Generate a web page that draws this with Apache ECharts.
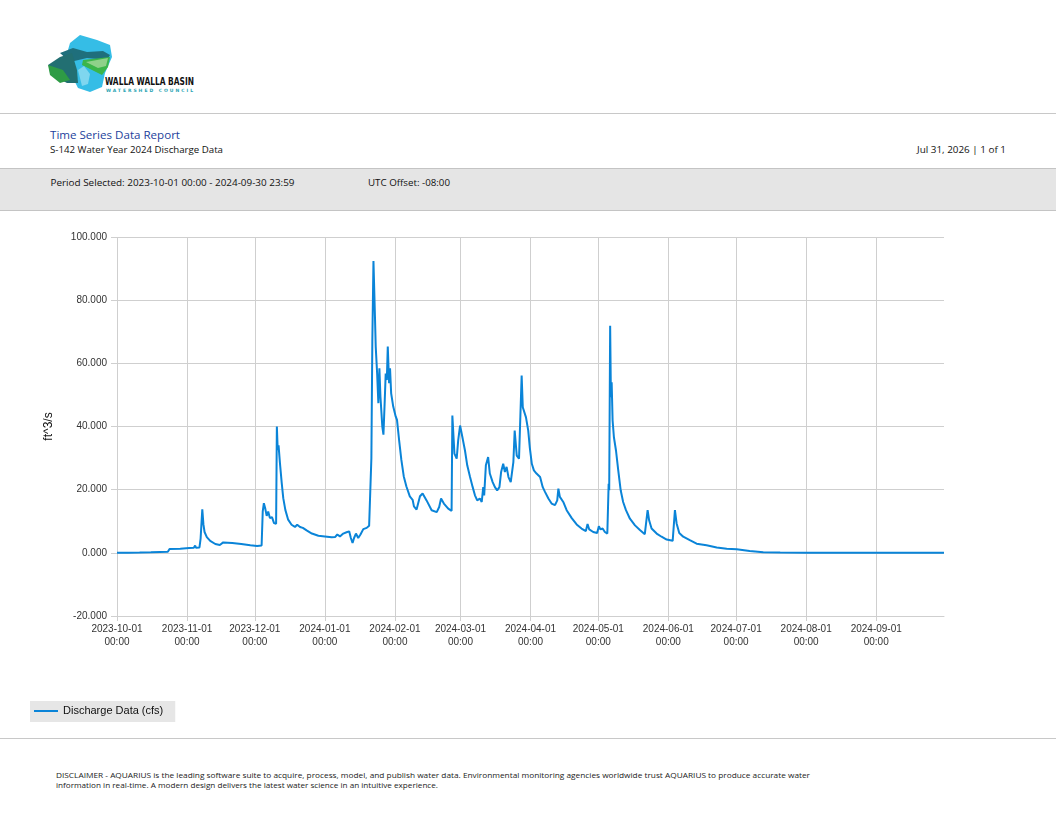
<!DOCTYPE html>
<html>
<head>
<meta charset="utf-8">
<title>Time Series Data Report</title>
<script src="https://cdn.jsdelivr.net/npm/echarts@6.0.0/dist/echarts.min.js"></script>
<style>
  html, body { margin: 0; padding: 0; background: #fff; }
  #page { position: relative; width: 1056px; height: 816px; overflow: hidden; font-family: "Open Sans", "DejaVu Sans", sans-serif; }
  #deco { position: absolute; left: 0; top: 0; }
  #main { position: absolute; left: 0; top: 0; width: 1056px; height: 816px; }
</style>
</head>
<body>
<div id="page">
  <svg id="deco" width="1056" height="816" xmlns="http://www.w3.org/2000/svg">
    <!-- logo -->
    <polygon points="70,43 80,35 97,40 110,45 112,57 105,73 102,87 90,92 78,88 73,78 68,50" fill="#35bde6"/>
    <polygon points="60,53 73,48 87,52 103,51 110,55 107,60 87,58 70,62" fill="#1f6f7c"/>
    <polygon points="83,60 110,57 108,67 102,75 92,70 82,65" fill="#3bb54a"/>
    <polygon points="86,62 108,58 106,66 98,68" fill="#8fd18a"/>
    <polygon points="48,65 60,57 72,53 77,70 78,83 67,83 57,78" fill="#226f72"/>
    <polygon points="48,65 63,70 70,80 60,83 50,75" fill="#2e9b45"/>
    <polygon points="78,70 84,66 90,74 88,84 82,86 80,78" fill="#7fd6ef"/>
    <text x="105" y="85" font-family="DejaVu Sans Condensed, DejaVu Sans, sans-serif" font-size="10" font-weight="bold" fill="#111" textLength="89" lengthAdjust="spacingAndGlyphs">WALLA WALLA BASIN</text>
    <text x="106" y="92" font-family="DejaVu Sans, sans-serif" font-size="4.5" font-weight="bold" fill="#2aa4b3" textLength="87" lengthAdjust="spacing">WATERSHED COUNCIL</text>

    <line x1="0" y1="113.5" x2="1056" y2="113.5" stroke="#c8c8c8" stroke-width="1"/>
    <text x="50" y="139" font-family="Open Sans, sans-serif" font-size="11.5" fill="#1d3f9c" textLength="130" lengthAdjust="spacingAndGlyphs">Time Series Data Report</text>
    <text x="50" y="152.5" font-family="Open Sans, sans-serif" font-size="9" fill="#111" textLength="173" lengthAdjust="spacingAndGlyphs">S-142 Water Year 2024 Discharge Data</text>
    <text x="917" y="152.5" font-family="Open Sans, sans-serif" font-size="9" fill="#111" textLength="89" lengthAdjust="spacingAndGlyphs">Jul 31, 2026 | 1 of 1</text>

    <rect x="0" y="168" width="1056" height="42" fill="#e5e5e5"/>
    <line x1="0" y1="168.5" x2="1056" y2="168.5" stroke="#c4c4c4" stroke-width="1"/>
    <line x1="0" y1="210.5" x2="1056" y2="210.5" stroke="#c4c4c4" stroke-width="1"/>
    <text x="50.5" y="185.5" font-family="Open Sans, sans-serif" font-size="9" fill="#111" textLength="244" lengthAdjust="spacingAndGlyphs">Period Selected: 2023-10-01 00:00 - 2024-09-30 23:59</text>
    <text x="368" y="185.5" font-family="Open Sans, sans-serif" font-size="9" fill="#111" textLength="82" lengthAdjust="spacingAndGlyphs">UTC Offset: -08:00</text>

    <line x1="0" y1="738.5" x2="1056" y2="738.5" stroke="#c8c8c8" stroke-width="1"/>
    <text x="56" y="777.5" font-family="Open Sans, sans-serif" font-size="8" fill="#222" textLength="754" lengthAdjust="spacingAndGlyphs">DISCLAIMER - AQUARIUS is the leading software suite to acquire, process, model, and publish water data. Environmental monitoring agencies worldwide trust AQUARIUS to produce accurate water</text>
    <text x="56" y="788" font-family="Open Sans, sans-serif" font-size="8" fill="#222" textLength="382" lengthAdjust="spacingAndGlyphs">information in real-time. A modern design delivers the latest water science in an intuitive experience.</text>
  </svg>
  <div id="main"></div>
</div>
<script>
// data
var seriesName = 'Discharge Data (cfs)';

var monthTicks = ['2023-10-01 00:00', '2023-11-01 00:00', '2023-12-01 00:00', '2024-01-01 00:00',
    '2024-02-01 00:00', '2024-03-01 00:00', '2024-04-01 00:00', '2024-05-01 00:00',
    '2024-06-01 00:00', '2024-07-01 00:00', '2024-08-01 00:00', '2024-09-01 00:00'];

var yTicks = [-20, 0, 20, 40, 60, 80, 100];

var flowDates = [
    '2023-10-01 00:00', '2023-10-06 00:00', '2023-10-11 00:00', '2023-10-16 00:00', '2023-10-20 00:00',
    '2023-10-23 12:00', '2023-10-24 06:00', '2023-10-25 00:00', '2023-10-29 00:00', '2023-11-02 00:00',
    '2023-11-04 00:00', '2023-11-04 14:00', '2023-11-05 00:00', '2023-11-06 12:00', '2023-11-07 00:00',
    '2023-11-07 18:00', '2023-11-08 06:00', '2023-11-08 18:00', '2023-11-09 18:00', '2023-11-11 06:00',
    '2023-11-13 12:00', '2023-11-15 12:00', '2023-11-17 00:00', '2023-11-21 00:00', '2023-11-25 00:00',
    '2023-11-29 00:00', '2023-12-02 00:00', '2023-12-04 00:00', '2023-12-04 12:00', '2023-12-05 00:00',
    '2023-12-05 14:00', '2023-12-06 06:00', '2023-12-06 22:00', '2023-12-07 16:00', '2023-12-08 14:00',
    '2023-12-09 12:00', '2023-12-10 10:00', '2023-12-10 18:00', '2023-12-11 03:00', '2023-12-11 12:00',
    '2023-12-12 03:00', '2023-12-12 22:00', '2023-12-13 14:00', '2023-12-14 12:00', '2023-12-15 18:00',
    '2023-12-17 06:00', '2023-12-18 18:00', '2023-12-19 18:00', '2023-12-21 00:00', '2023-12-22 06:00',
    '2023-12-22 22:00', '2023-12-23 22:00', '2023-12-26 06:00', '2023-12-29 03:00', '2024-01-01 00:00',
    '2024-01-04 00:00', '2024-01-05 12:00', '2024-01-06 12:00', '2024-01-07 16:00', '2024-01-09 03:00',
    '2024-01-10 14:00', '2024-01-11 18:00', '2024-01-12 12:00', '2024-01-13 06:00', '2024-01-13 22:00',
    '2024-01-14 18:00', '2024-01-15 18:00', '2024-01-16 18:00', '2024-01-18 00:00', '2024-01-19 12:00',
    '2024-01-20 14:00', '2024-01-21 04:00', '2024-01-21 14:00', '2024-01-22 00:00', '2024-01-22 12:00',
    '2024-01-23 04:00', '2024-01-23 12:00', '2024-01-24 03:00', '2024-01-24 16:00', '2024-01-25 03:00',
    '2024-01-25 14:00', '2024-01-26 10:00', '2024-01-26 22:00', '2024-01-27 12:00', '2024-01-27 22:00',
    '2024-01-28 10:00', '2024-01-28 20:00', '2024-01-29 10:00', '2024-01-29 20:00', '2024-01-30 08:00',
    '2024-01-31 06:00', '2024-02-01 08:00', '2024-02-01 22:00', '2024-02-02 20:00', '2024-02-03 20:00',
    '2024-02-04 22:00', '2024-02-06 02:00', '2024-02-07 14:00', '2024-02-08 20:00', '2024-02-09 10:00',
    '2024-02-10 14:00', '2024-02-12 02:00', '2024-02-13 06:00', '2024-02-15 00:00', '2024-02-17 06:00',
    '2024-02-19 12:00', '2024-02-20 14:00', '2024-02-21 10:00', '2024-02-22 16:00', '2024-02-24 14:00',
    '2024-02-26 02:00', '2024-02-26 10:00', '2024-02-27 08:00', '2024-02-28 08:00', '2024-02-29 00:00',
    '2024-02-29 20:00', '2024-03-02 00:00', '2024-03-03 00:00', '2024-03-04 00:00', '2024-03-05 06:00',
    '2024-03-06 10:00', '2024-03-07 10:00', '2024-03-08 10:00', '2024-03-09 14:00', '2024-03-10 10:00',
    '2024-03-11 02:00', '2024-03-11 12:00', '2024-03-12 06:00', '2024-03-13 06:00', '2024-03-14 00:00',
    '2024-03-15 06:00', '2024-03-16 06:00', '2024-03-17 06:00', '2024-03-18 06:00', '2024-03-19 00:00',
    '2024-03-19 22:00', '2024-03-20 16:00', '2024-03-21 10:00', '2024-03-22 06:00', '2024-03-23 06:00',
    '2024-03-24 10:00', '2024-03-25 00:00', '2024-03-25 22:00', '2024-03-26 22:00', '2024-03-27 14:00',
    '2024-03-28 02:00', '2024-03-28 14:00', '2024-03-29 02:00', '2024-03-30 00:00', '2024-03-31 00:00',
    '2024-03-31 16:00', '2024-04-01 14:00', '2024-04-02 12:00', '2024-04-03 16:00', '2024-04-05 06:00',
    '2024-04-06 10:00', '2024-04-07 10:00', '2024-04-08 22:00', '2024-04-10 08:00', '2024-04-11 20:00',
    '2024-04-12 20:00', '2024-04-13 08:00', '2024-04-14 00:00', '2024-04-15 12:00', '2024-04-17 00:00',
    '2024-04-19 06:00', '2024-04-21 10:00', '2024-04-23 14:00', '2024-04-25 12:00', '2024-04-26 06:00',
    '2024-04-27 00:00', '2024-04-28 18:00', '2024-04-30 12:00', '2024-05-01 06:00', '2024-05-02 00:00',
    '2024-05-02 22:00', '2024-05-03 22:00', '2024-05-05 00:00', '2024-05-05 14:00', '2024-05-05 20:00',
    '2024-05-06 06:00', '2024-05-06 14:00', '2024-05-06 22:00', '2024-05-07 08:00', '2024-05-07 22:00',
    '2024-05-08 20:00', '2024-05-09 20:00', '2024-05-10 22:00', '2024-05-12 00:00', '2024-05-13 06:00',
    '2024-05-15 00:00', '2024-05-17 06:00', '2024-05-19 10:00', '2024-05-21 14:00', '2024-05-22 20:00',
    '2024-05-23 12:00', '2024-05-24 14:00', '2024-05-26 20:00', '2024-05-29 00:00', '2024-05-31 06:00',
    '2024-06-02 22:00', '2024-06-03 22:00', '2024-06-04 16:00', '2024-06-05 20:00', '2024-06-07 14:00',
    '2024-06-10 12:00', '2024-06-13 12:00', '2024-06-17 22:00', '2024-06-22 10:00', '2024-06-26 20:00',
    '2024-07-01 06:00', '2024-07-07 00:00', '2024-07-13 00:00', '2024-07-20 12:00', '2024-08-01 00:00',
    '2024-08-20 00:00', '2024-09-10 00:00', '2024-09-30 23:45'
];

var flowValues = [
    0.0, 0.05, 0.1, 0.2, 0.3,
    0.35, 1.2, 1.3, 1.3, 1.5,
    1.6, 2.3, 1.6, 1.7, 4.5,
    13.8, 9.0, 6.6, 5.0, 3.8,
    2.8, 2.5, 3.3, 3.1, 2.8,
    2.4, 2.2, 2.3, 13.1, 15.7,
    14.1, 11.7, 13.1, 11.0, 11.3,
    9.4, 9.2, 40.0, 32.5, 34.0,
    28.3, 22.0, 17.3, 13.6, 10.5,
    8.9, 8.2, 8.9, 8.2, 7.9,
    8.4, 7.1, 6.1, 5.4, 5.2,
    4.9, 5.0, 5.8, 5.2, 6.1,
    6.5, 6.8, 4.7, 3.1, 4.7,
    6.1, 4.7, 5.8, 7.5, 7.9,
    8.6, 9.0, 30.0, 67.0, 92.4,
    74.7, 65.3, 56.8, 47.4, 58.4,
    49.5, 40.0, 37.4, 48.4, 56.8,
    54.7, 65.3, 53.7, 58.4, 50.5,
    46.3, 43.2, 42.1, 35.8, 29.5,
    24.2, 21.0, 17.9, 16.8, 14.7,
    13.7, 17.9, 18.8, 16.6, 13.5,
    12.9, 14.5, 17.2, 15.6, 14.0,
    13.3, 43.5, 31.4, 29.8, 35.6,
    40.3, 36.1, 32.4, 27.7, 24.0,
    20.8, 18.2, 16.6, 17.2, 16.1,
    20.8, 18.2, 27.7, 30.3, 25.1,
    22.4, 20.8, 19.8, 20.8, 25.6,
    28.2, 25.6, 27.2, 24.0, 22.4,
    28.7, 38.7, 30.8, 29.8, 29.3,
    56.1, 46.1, 46.6, 42.9, 38.7,
    33.5, 28.2, 26.1, 25.1, 24.0,
    20.8, 19.3, 17.2, 15.6, 15.1,
    16.6, 20.3, 17.7, 16.1, 13.5,
    11.0, 9.0, 7.7, 6.9, 9.1,
    7.4, 6.6, 6.3, 8.4, 7.4,
    7.7, 6.6, 6.1, 21.9, 19.8,
    71.9, 49.3, 54.0, 41.9, 36.6,
    32.4, 26.1, 19.8, 16.1, 13.5,
    10.8, 8.7, 7.2, 5.9, 13.5,
    10.3, 7.7, 6.1, 5.1, 4.2,
    3.8, 13.5, 9.3, 6.3, 5.1,
    4.0, 2.9, 2.4, 1.7, 1.3,
    1.1, 0.6, 0.2, 0.1, 0.05,
    0.02, 0.0, 0.0
];

function toTime(s) {
    return echarts.time.parse(s).getTime();
}

var tickTimes = monthTicks.map(toTime);
var flowData = flowDates.map(function (d, i) {
    return [toTime(d), flowValues[i]];
});

var gridColor = '#cfcfcf';
var lineColor = '#0a84d8';
var labelFont = '"Liberation Sans", Arial, sans-serif';

var myChart = echarts.init(document.getElementById('main'));

// x axis is a plain value axis holding timestamps, ticks at month starts
var option = {
    animation: false,
    grid: { left: 117, top: 237, width: 827, height: 379 },
    legend: {
        left: 30,
        top: 701,
        backgroundColor: '#e6e6e6',
        padding: [4, 12, 5, 4],
        icon: 'rect',
        itemWidth: 24,
        itemHeight: 2,
        textStyle: { fontSize: 11, color: '#111', fontFamily: labelFont, lineHeight: 12 },
        data: [seriesName]
    },
    xAxis: {
        type: 'value',
        min: toTime('2023-10-01 00:00'),
        max: toTime('2024-09-30 23:59'),
        axisLine: { show: true, onZero: false, lineStyle: { color: gridColor } },
        axisTick: { show: true, length: 5, customValues: tickTimes, lineStyle: { color: gridColor } },
        axisLabel: {
            customValues: tickTimes,
            color: '#333',
            fontSize: 10,
            fontFamily: labelFont,
            lineHeight: 12.5,
            margin: 7,
            formatter: function (val) {
                return echarts.time.format(val, '{yyyy}-{MM}-{dd}\n{HH}:{mm}', false);
            }
        },
        splitLine: { show: true, customValues: tickTimes, lineStyle: { color: gridColor, width: 1 } }
    },
    yAxis: {
        type: 'value',
        min: yTicks[0],
        max: yTicks[yTicks.length - 1],
        interval: 20,
        name: 'ft^3/s',
        nameLocation: 'middle',
        nameGap: 62,
        nameTextStyle: { color: '#111', fontSize: 12, fontFamily: labelFont },
        axisLine: { show: false },
        axisTick: { show: true, length: 6, lineStyle: { color: gridColor } },
        axisLabel: {
            color: '#333',
            fontSize: 10,
            fontFamily: labelFont,
            margin: 10,
            formatter: function (v) { return v.toFixed(3); }
        },
        splitLine: { show: true, lineStyle: { color: gridColor, width: 1 } }
    },
    series: [{
        name: seriesName,
        type: 'line',
        data: flowData,
        symbol: 'none',
        showSymbol: false,
        lineStyle: { width: 2, color: lineColor },
        itemStyle: { color: lineColor }
    }]
};

myChart.setOption(option);
</script>
</body>
</html>
